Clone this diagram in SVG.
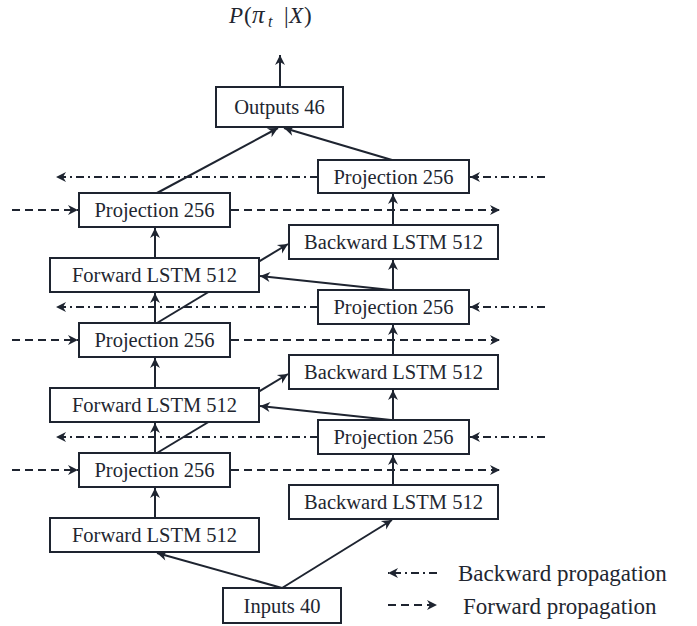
<svg xmlns="http://www.w3.org/2000/svg" width="697" height="626" viewBox="0 0 697 626">
  <style>
    .box { fill: #ffffff; stroke: #1e2430; stroke-width: 2; }
    .lbl { font-family: "Liberation Serif", "Times New Roman", serif; font-size: 20.5px; fill: #222630; text-anchor: middle; }
    .leg { font-family: "Liberation Serif", "Times New Roman", serif; font-size: 23px; fill: #222630; }
    .title { font-family: "Liberation Serif", "Times New Roman", serif; font-size: 23px; fill: #222630; }
    .solid { fill: none; stroke: #1e2430; stroke-width: 2; marker-end: url(#ah); }
    .fwd { fill: none; stroke: #1e2430; stroke-width: 1.8; stroke-dasharray: 8 5; }
    .bwd { fill: none; stroke: #1e2430; stroke-width: 1.8; stroke-dasharray: 8 4 2 4; }
    .arr { marker-end: url(#ah); }
  </style>
  <defs>
    <marker id="ah" markerUnits="userSpaceOnUse" markerWidth="12" markerHeight="12" viewBox="0 0 12 12" refX="11" refY="6" orient="auto">
      <path d="M1,1 L11,6 L1,11 L4,6 z" fill="#1e2430"/>
    </marker>
  </defs>

  <text class="title" y="23"><tspan x="229" font-style="italic">P</tspan><tspan x="244">(</tspan><tspan x="252" font-style="italic" font-size="25">π</tspan><tspan x="268" y="27" font-size="16" font-style="italic">t</tspan><tspan x="284" y="23">|</tspan><tspan x="289" font-style="italic">X</tspan><tspan x="304">)</tspan></text>

  <g id="connectors">
    <path class="solid" d="M280,87 L280,55"/>
    <path class="solid" d="M157,193 L278,128"/>
    <path class="solid" d="M392,160 L284,128"/>
    <path class="solid" d="M155,258 L155,228"/>
    <path class="solid" d="M393,225 L393,194"/>
    <path class="solid" d="M155,323 L155,293"/>
    <path class="solid" d="M157,323 L288,244"/>
    <path class="solid" d="M393,290 L393,260"/>
    <path class="solid" d="M391,290 L260,276"/>
    <path class="solid" d="M155,388 L155,358"/>
    <path class="solid" d="M393,355 L393,325"/>
    <path class="solid" d="M155,453 L155,423"/>
    <path class="solid" d="M157,453 L288,374"/>
    <path class="solid" d="M393,420 L393,390"/>
    <path class="solid" d="M391,420 L260,406"/>
    <path class="solid" d="M155,518 L155,488"/>
    <path class="solid" d="M393,485 L393,455"/>
    <path class="solid" d="M282,588 L157,553"/>
    <path class="solid" d="M282,588 L392,520"/>

    <path class="bwd arr" d="M318,177 L56,177"/>
    <path class="bwd arr" d="M545,177 L470,177"/>
    <path class="bwd arr" d="M318,307 L56,307"/>
    <path class="bwd arr" d="M545,307 L470,307"/>
    <path class="bwd arr" d="M318,437 L56,437"/>
    <path class="bwd arr" d="M545,437 L470,437"/>

    <path class="fwd arr" d="M12,210 L78,210"/>
    <path class="fwd arr" d="M231,210 L500,210"/>
    <path class="fwd arr" d="M12,340 L78,340"/>
    <path class="fwd arr" d="M231,340 L500,340"/>
    <path class="fwd arr" d="M12,470 L78,470"/>
    <path class="fwd arr" d="M231,470 L500,470"/>
  </g>

  <g id="outputs"><rect class="box" x="216" y="87" width="127" height="40"/><text class="lbl" x="279.5" y="114">Outputs 46</text></g>
  <g id="projR1"><rect class="box" x="318" y="160" width="151" height="33"/><text class="lbl" x="393.5" y="183.5">Projection 256</text></g>
  <g id="projL1"><rect class="box" x="79" y="193" width="151" height="34"/><text class="lbl" x="154.5" y="217">Projection 256</text></g>
  <g id="blstm1"><rect class="box" x="289" y="225" width="209" height="34"/><text class="lbl" x="393.5" y="249">Backward LSTM 512</text></g>
  <g id="flstm1"><rect class="box" x="50" y="258" width="209" height="34"/><text class="lbl" x="154.5" y="282">Forward LSTM 512</text></g>
  <g id="projR2"><rect class="box" x="318" y="290" width="151" height="34"/><text class="lbl" x="393.5" y="314">Projection 256</text></g>
  <g id="projL2"><rect class="box" x="79" y="323" width="151" height="34"/><text class="lbl" x="154.5" y="347">Projection 256</text></g>
  <g id="blstm2"><rect class="box" x="289" y="355" width="209" height="34"/><text class="lbl" x="393.5" y="379">Backward LSTM 512</text></g>
  <g id="flstm2"><rect class="box" x="50" y="388" width="209" height="34"/><text class="lbl" x="154.5" y="412">Forward LSTM 512</text></g>
  <g id="projR3"><rect class="box" x="318" y="420" width="151" height="34"/><text class="lbl" x="393.5" y="444">Projection 256</text></g>
  <g id="projL3"><rect class="box" x="79" y="453" width="151" height="34"/><text class="lbl" x="154.5" y="477">Projection 256</text></g>
  <g id="blstm3"><rect class="box" x="289" y="485" width="209" height="34"/><text class="lbl" x="393.5" y="509">Backward LSTM 512</text></g>
  <g id="flstm3"><rect class="box" x="50" y="518" width="209" height="34"/><text class="lbl" x="154.5" y="542">Forward LSTM 512</text></g>
  <g id="inputs"><rect class="box" x="223" y="588" width="118" height="35"/><text class="lbl" x="282" y="612.5">Inputs 40</text></g>

  <g id="legend">
    <path class="bwd arr" d="M437,573 L388,573"/>
    <text class="leg" x="458" y="581">Backward propagation</text>
    <path class="fwd arr" d="M388,605 L437,605"/>
    <text class="leg" x="463" y="614">Forward propagation</text>
  </g>
</svg>
